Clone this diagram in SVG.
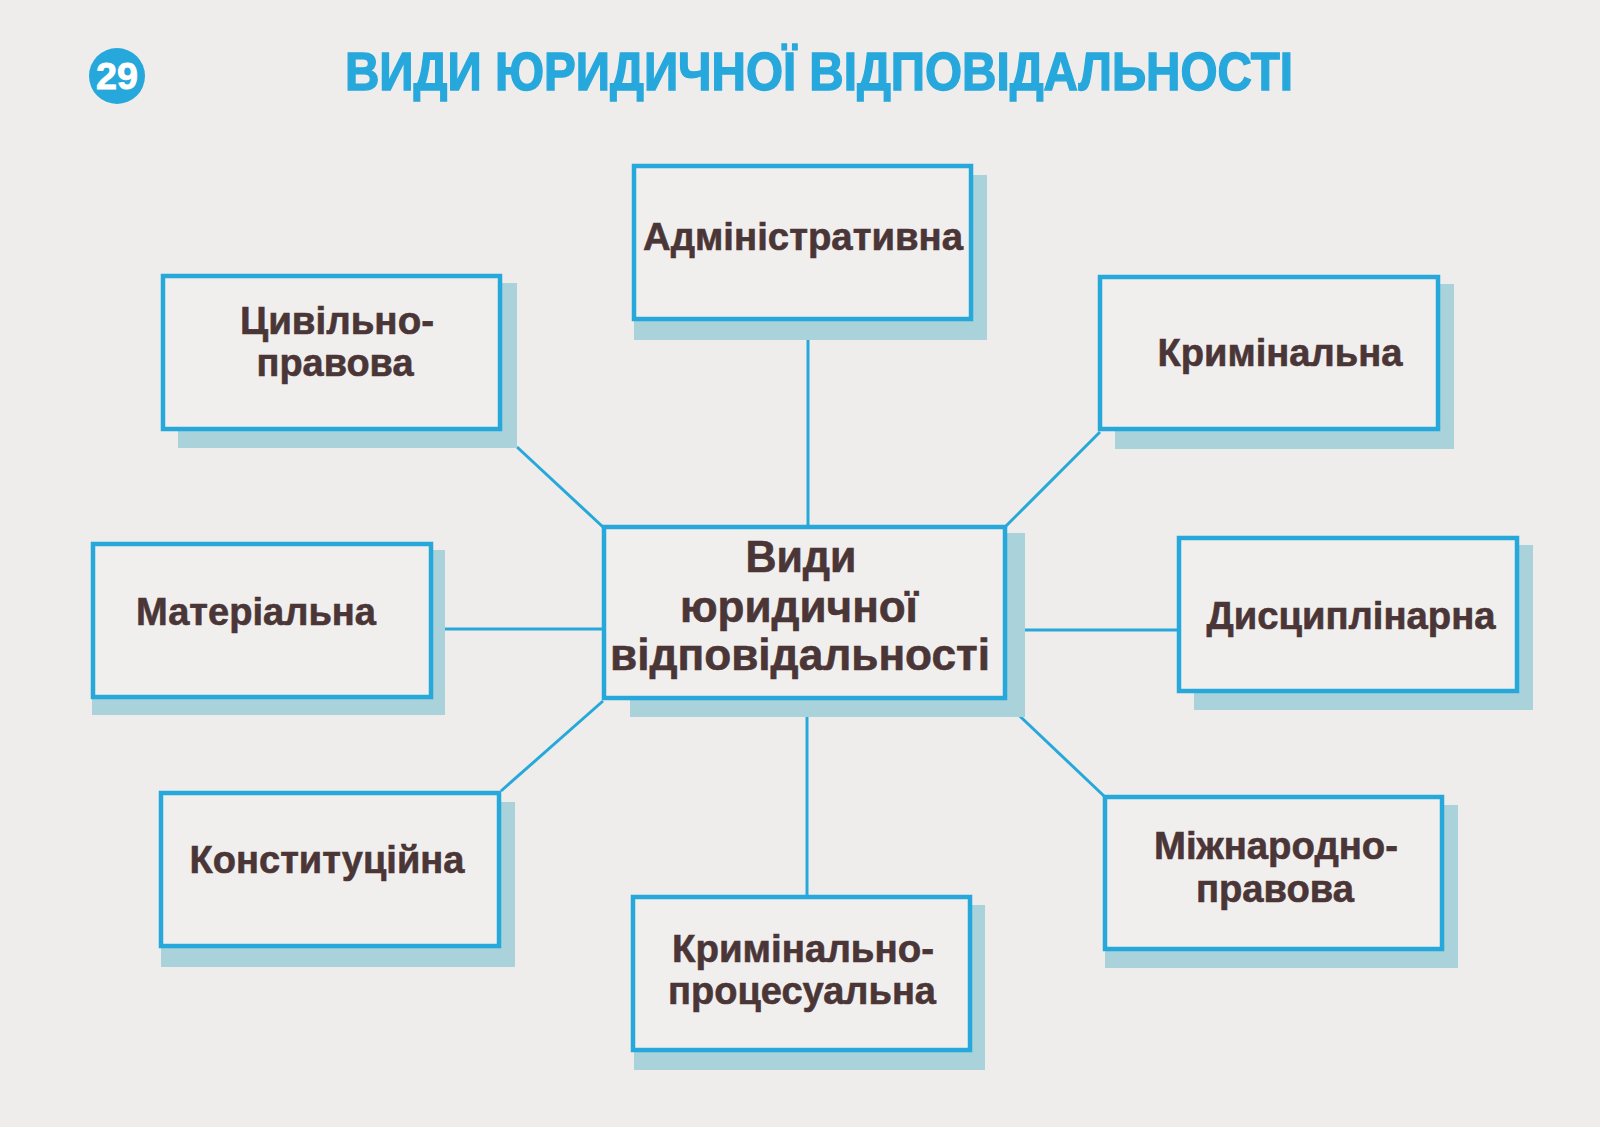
<svg xmlns="http://www.w3.org/2000/svg" width="1600" height="1127" viewBox="0 0 1600 1127">
<style>
.bg{fill:#efedeb}
.box{fill:#f1efed;stroke:#27a8db;stroke-width:4.5}
.sh{fill:#a9d2db}
.ln{stroke:#27a8db;stroke-width:3;fill:none}
.t{font-family:"Liberation Sans",Arial,sans-serif;font-weight:bold;font-size:39px;fill:#4a3537;stroke:#4a3537;stroke-width:0.6;text-anchor:middle}
.tc{font-size:44px}
.title{font-family:"Liberation Sans",Arial,sans-serif;font-weight:bold;font-size:53px;fill:#27a8dc;stroke:#27a8dc;stroke-width:1.4}
</style>
<rect class="bg" x="0" y="0" width="1600" height="1127"/>

<g id="badge">
<circle cx="117" cy="76" r="28" fill="#27a8dc"/>
<text x="117" y="89" font-family="Liberation Sans,Arial,sans-serif" font-weight="bold" font-size="36" fill="#ffffff" stroke="#ffffff" stroke-width="0.8" text-anchor="middle" textLength="42" lengthAdjust="spacingAndGlyphs">29</text>
</g>

<g id="title">
<text class="title" x="345" y="90" textLength="948" lengthAdjust="spacingAndGlyphs">ВИДИ ЮРИДИЧНОЇ ВІДПОВІДАЛЬНОСТІ</text>
</g>

<g id="connectors">
<line class="ln" x1="808" y1="321" x2="808" y2="527"/>
<line class="ln" x1="807" y1="700" x2="807" y2="897"/>
<line class="ln" x1="517" y1="447" x2="603" y2="527"/>
<line class="ln" x1="433" y1="629" x2="604" y2="629"/>
<line class="ln" x1="501" y1="791" x2="603" y2="701"/>
<line class="ln" x1="1100" y1="432" x2="1006" y2="526"/>
<line class="ln" x1="1007" y1="630" x2="1179" y2="630"/>
<line class="ln" x1="1005" y1="702" x2="1104" y2="796"/>
</g>

<g id="node-center">
<rect class="sh" x="630" y="533" width="395" height="184"/>
<rect class="box" x="604" y="527" width="401" height="171"/>
<text class="t tc" x="801" y="572" textLength="111" lengthAdjust="spacingAndGlyphs">Види</text>
<text class="t tc" x="799" y="622" textLength="238" lengthAdjust="spacingAndGlyphs">юридичної</text>
<text class="t tc" x="800" y="670" textLength="380" lengthAdjust="spacingAndGlyphs">відповідальності</text>
</g>

<g id="node-admin">
<rect class="sh" x="634" y="175" width="353" height="165"/>
<rect class="box" x="634" y="166" width="337" height="153"/>
<text class="t" x="803" y="250" textLength="320" lengthAdjust="spacingAndGlyphs">Адміністративна</text>
</g>

<g id="node-civil">
<rect class="sh" x="178" y="283" width="339" height="165"/>
<rect class="box" x="163" y="276" width="337" height="153"/>
<text class="t" x="337" y="334" textLength="194" lengthAdjust="spacingAndGlyphs">Цивільно-</text>
<text class="t" x="335" y="376" textLength="157" lengthAdjust="spacingAndGlyphs">правова</text>
</g>

<g id="node-criminal">
<rect class="sh" x="1115" y="284" width="339" height="165"/>
<rect class="box" x="1100" y="277" width="338" height="152"/>
<text class="t" x="1280" y="366" textLength="245" lengthAdjust="spacingAndGlyphs">Кримінальна</text>
</g>

<g id="node-material">
<rect class="sh" x="92" y="550" width="353" height="165"/>
<rect class="box" x="93" y="544" width="338" height="153"/>
<text class="t" x="256" y="625" textLength="240" lengthAdjust="spacingAndGlyphs">Матеріальна</text>
</g>

<g id="node-disciplinary">
<rect class="sh" x="1194" y="545" width="339" height="165"/>
<rect class="box" x="1179" y="538" width="338" height="153"/>
<text class="t" x="1351" y="629" textLength="289" lengthAdjust="spacingAndGlyphs">Дисциплінарна</text>
</g>

<g id="node-constitutional">
<rect class="sh" x="161" y="802" width="354" height="165"/>
<rect class="box" x="161" y="793" width="338" height="153"/>
<text class="t" x="327" y="873" textLength="275" lengthAdjust="spacingAndGlyphs">Конституційна</text>
</g>

<g id="node-criminal-procedural">
<rect class="sh" x="634" y="905" width="351" height="165"/>
<rect class="box" x="633" y="897" width="337" height="153"/>
<text class="t" x="803" y="962" textLength="262" lengthAdjust="spacingAndGlyphs">Кримінально-</text>
<text class="t" x="802" y="1004" textLength="268" lengthAdjust="spacingAndGlyphs">процесуальна</text>
</g>

<g id="node-international">
<rect class="sh" x="1105" y="805" width="353" height="163"/>
<rect class="box" x="1105" y="797" width="337" height="152"/>
<text class="t" x="1276" y="859" textLength="244" lengthAdjust="spacingAndGlyphs">Міжнародно-</text>
<text class="t" x="1275" y="902" textLength="158" lengthAdjust="spacingAndGlyphs">правова</text>
</g>
</svg>
